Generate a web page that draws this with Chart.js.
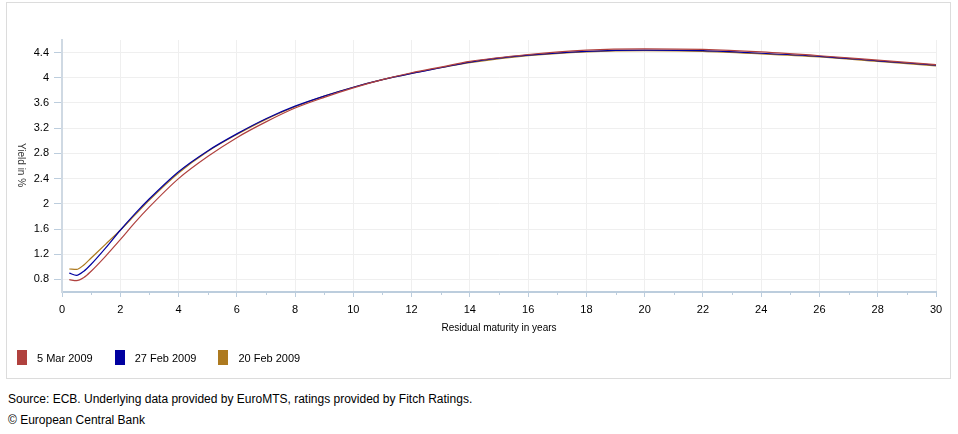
<!DOCTYPE html>
<html>
<head>
<meta charset="utf-8">
<script src="https://cdn.jsdelivr.net/npm/chart.js@4/dist/chart.umd.min.js"></script>
<style>
  html, body { margin: 0; padding: 0; background: #fff; }
  body { width: 958px; height: 434px; position: relative; overflow: hidden; font-family: "Liberation Sans", Arial, sans-serif; }
  #box { position: absolute; left: 6px; top: 2px; width: 943px; height: 375px; border: 1px solid #dcdcdc; }
  #wrap { position: absolute; left: 0; top: 0; width: 943px; height: 375px; }
  #ytitle { position: absolute; left: 8px; top: 140px; writing-mode: vertical-rl; font-size: 10px; color: #333; line-height: 12px; }
  #legend { position: absolute; left: 10px; top: 347px; display: flex; align-items: center; font-size: 11px; color: #000; }
  .sw { width: 10px; height: 15px; margin-right: 10px; }
  .lt { margin-right: 22px; white-space: nowrap; }
  .src { position: absolute; left: 8px; font-size: 12px; color: #000; white-space: nowrap; }
</style>
</head>
<body>
<div id="box">
  <div id="wrap"><canvas id="c"></canvas></div>
  <div id="ytitle">Yield in %</div>
  <div id="legend"></div>
</div>
<div class="src" style="top:392px">Source: ECB. Underlying data provided by EuroMTS, ratings provided by Fitch Ratings.</div>
<div class="src" style="top:413px">© European Central Bank</div>
<script>
// Residual maturity (years)
const maturities = [0.25, 0.5, 0.75, 1, 1.5, 2, 2.5, 3, 4, 5, 6, 7, 8, 9, 10, 11, 12, 13, 14, 16, 18, 20, 22, 24, 26, 28, 30];
// Yields (%)
const yield5Mar  = [0.795, 0.78, 0.83, 0.93, 1.17, 1.43, 1.70, 1.95, 2.40, 2.75, 3.05, 3.30, 3.52, 3.69, 3.84, 3.97, 4.08, 4.17, 4.26, 4.37, 4.44, 4.46, 4.45, 4.41, 4.35, 4.28, 4.21];
const yield27Feb = [0.90, 0.865, 0.93, 1.04, 1.30, 1.58, 1.84, 2.08, 2.51, 2.84, 3.11, 3.35, 3.55, 3.71, 3.85, 3.97, 4.07, 4.16, 4.25, 4.36, 4.42, 4.44, 4.43, 4.39, 4.34, 4.27, 4.20];
const yield20Feb = [0.965, 0.96, 1.03, 1.14, 1.36, 1.58, 1.82, 2.06, 2.49, 2.83, 3.10, 3.34, 3.54, 3.71, 3.85, 3.97, 4.07, 4.16, 4.24, 4.35, 4.41, 4.43, 4.42, 4.38, 4.33, 4.26, 4.19];
const seriesNames = ["5 Mar 2009", "27 Feb 2009", "20 Feb 2009"];
const seriesColors = ["#b0413e", "#0000a0", "#ad7a20"];
const yTickValues = [0.8, 1.2, 1.6, 2, 2.4, 2.8, 3.2, 3.6, 4, 4.4];
const xMajorTicks = [0, 2, 4, 6, 8, 10, 12, 14, 16, 18, 20, 22, 24, 26, 28, 30];
const xMinorTicks = [1, 3, 5, 7, 9, 11, 13, 15, 17, 19, 21, 23, 25, 27, 29];

const allSeries = [yield5Mar, yield27Feb, yield20Feb];
const datasets = allSeries.map((vals, i) => ({
  label: seriesNames[i],
  data: maturities.map((m, j) => ({ x: m, y: vals[j] })),
  borderColor: seriesColors[i],
  backgroundColor: seriesColors[i],
  borderWidth: 1.2,
  pointRadius: 0,
  fill: false,
  cubicInterpolationMode: 'monotone'
}));

// HTML legend built from series arrays
const leg = document.getElementById('legend');
seriesNames.forEach((n, i) => {
  const s = document.createElement('div'); s.className = 'sw'; s.style.background = seriesColors[i];
  const t = document.createElement('div'); t.className = 'lt'; t.textContent = n;
  leg.appendChild(s); leg.appendChild(t);
});

const axisColor = '#bccddd';
const minorTicks = {
  id: 'minorTicks',
  afterDraw(chart) {
    const xs = chart.scales.x, ctx = chart.ctx;
    ctx.save();
    ctx.strokeStyle = axisColor; ctx.lineWidth = 1;
    xMinorTicks.forEach(v => {
      const px = Math.round(xs.getPixelForValue(v)) + 0.5;
      ctx.beginPath(); ctx.moveTo(px, xs.top); ctx.lineTo(px, xs.top + 3); ctx.stroke();
    });
    ctx.restore();
  }
};

const font = { family: '"Liberation Sans", Arial, sans-serif', size: 11 };
new Chart(document.getElementById('c'), {
  type: 'line',
  data: { datasets },
  plugins: [minorTicks],
  options: {
    responsive: true,
    maintainAspectRatio: false,
    animation: false,
    layout: { padding: { left: 0, right: 14, top: 37, bottom: 0 } },
    plugins: { legend: { display: false }, tooltip: { enabled: false } },
    scales: {
      x: {
        type: 'linear', min: 0, max: 30,
        afterBuildTicks: s => { s.ticks = xMajorTicks.map(v => ({ value: v })); },
        afterFit: s => { s.height = 86; },
        ticks: { color: '#000', font, padding: 6, maxRotation: 0, callback: v => String(v) },
        grid: { color: '#efefef', tickColor: axisColor, tickLength: 5, lineWidth: 1 },
        border: { color: axisColor, width: 2 },
        title: { display: true, text: 'Residual maturity in years', color: '#000', font: { family: font.family, size: 10 }, padding: { top: 4, bottom: 44 } }
      },
      y: {
        type: 'linear', min: 0.6, max: 4.6,
        afterBuildTicks: s => { s.ticks = yTickValues.map(v => ({ value: v })); },
        afterFit: s => { s.width = 55; },
        ticks: { color: '#000', font, padding: 5, callback: v => String(v) },
        grid: { color: '#efefef', tickColor: axisColor, tickLength: 8, lineWidth: 1 },
        border: { color: '#cfd9e3', width: 2 }
      }
    }
  }
});
</script>
</body>
</html>
